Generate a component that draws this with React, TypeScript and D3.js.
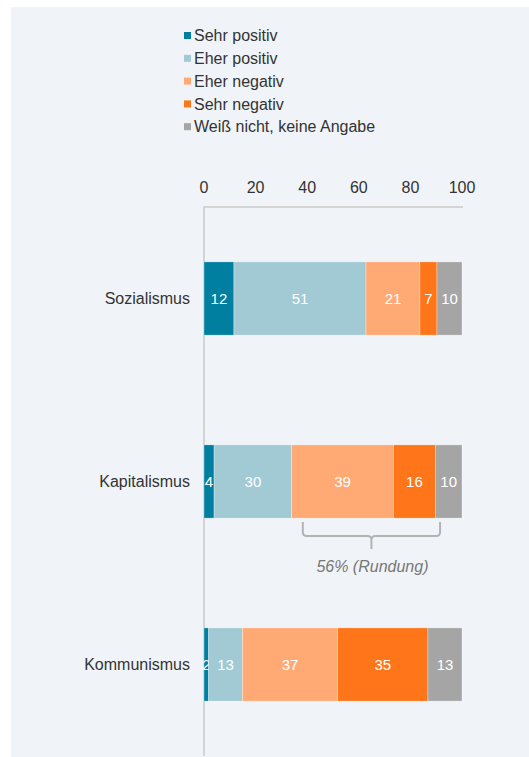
import React from "react";
import * as d3 from "d3";

const categories = ["Sozialismus", "Kapitalismus", "Kommunismus"];
const seriesNames = ["Sehr positiv", "Eher positiv", "Eher negativ", "Sehr negativ", "Weiß nicht, keine Angabe"];
const seriesColors = ["#007fa0", "#a1cad4", "#ffa974", "#ff751a", "#a5a5a5"];
const sehrPositiv = [11.6, 3.9, 1.8];
const eherPositiv = [51.2, 30.1, 13.1];
const eherNegativ = [20.9, 39.4, 36.9];
const sehrNegativ = [6.6, 16.3, 35.0];
const weissNicht = [9.7, 10.3, 13.2];
const displayLabels = [
  ["12", "51", "21", "7", "10"],
  ["4", "30", "39", "16", "10"],
  ["2", "13", "37", "35", "13"],
];
const ticks = [0, 20, 40, 60, 80, 100];
const braceCategory = "Kapitalismus";
const braceRange = [38.3, 91.5];
const braceLabel = "56% (Rundung)";

const W = 529;
const H = 757;
const FONT = "'Liberation Sans', Arial, sans-serif";

export default function App() {
  const x = d3.scaleLinear().domain([0, 100]).range([204, 462]);
  const y = d3.scaleBand<string>().domain(categories).range([207, 756]).paddingInner(0.6).paddingOuter(0.3);
  const series = [sehrPositiv, eherPositiv, eherNegativ, sehrNegativ, weissNicht];
  const rows = categories.map((c, i) => {
    const obj: any = { cat: c };
    seriesNames.forEach((s, j) => (obj[s] = series[j][i]));
    return obj;
  });
  const stacked = d3.stack<any>().keys(seriesNames)(rows);

  const bw = y.bandwidth();
  const by = (y(braceCategory) as number) + bw;
  const bx0 = x(braceRange[0]);
  const bx1 = x(braceRange[1]);
  const bmid = (bx0 + bx1) / 2;
  const t = by + 4;
  const hy = by + 18;
  const r = 4;
  const bracePath = `M${bx0},${t} V${hy - r} Q${bx0},${hy} ${bx0 + r},${hy} H${bmid - r} Q${bmid},${hy} ${bmid},${hy + r} V${hy + 13} M${bmid},${hy + r} Q${bmid},${hy} ${bmid + r},${hy} H${bx1 - r} Q${bx1},${hy} ${bx1},${hy - r} V${t}`;

  return (
    <svg width={W} height={H} style={{ position: "absolute", left: 0, top: 0 }} fontFamily={FONT}>
      <rect x={11} y={7} width={W - 11} height={750} fill="#f0f4f8" />
      {/* legend */}
      {seriesNames.map((s, i) => {
        const cy = 35.5 + i * 22.8;
        return (
          <g key={s}>
            <rect x={184} y={cy - 3.5} width={7} height={7} fill={seriesColors[i]} />
            <text x={194} y={cy} dy="0.35em" fontSize={16} fill="#333">
              {s}
            </text>
          </g>
        );
      })}
      {/* axis */}
      {ticks.map((tk) => (
        <text key={tk} x={x(tk)} y={187.5} dy="0.35em" textAnchor="middle" fontSize={16} fill="#333">
          {tk}
        </text>
      ))}
      <line x1={x(0)} x2={x(100) + 1} y1={207} y2={207} stroke="#d4d4d4" strokeWidth={2} />
      <line x1={x(0)} x2={x(0)} y1={206} y2={756} stroke="#d4d4d4" strokeWidth={2} />
      {/* bars */}
      {stacked.map((layer, j) => (
        <g key={layer.key}>
          {layer.map((d, i) => {
            const cat = categories[i];
            const x0 = x(d[0]);
            const x1 = x(d[1]);
            return (
              <g key={cat}>
                <rect x={x0} y={y(cat)} width={x1 - x0} height={bw} fill={seriesColors[j]} stroke="#fff" strokeWidth={0.5} strokeOpacity={0.6} />
                <text x={(x0 + x1) / 2} y={(y(cat) as number) + bw / 2} dy="0.35em" textAnchor="middle" fontSize={15} fill="#fff">
                  {displayLabels[i][j]}
                </text>
              </g>
            );
          })}
        </g>
      ))}
      {/* category labels */}
      {categories.map((c) => (
        <text key={c} x={190} y={(y(c) as number) + bw / 2} dy="0.35em" textAnchor="end" fontSize={16} fill="#333">
          {c}
        </text>
      ))}
      {/* brace */}
      <path d={bracePath} fill="none" stroke="#b3b3b3" strokeWidth={2} />
      <text x={bmid + 1} y={hy + 30} dy="0.35em" textAnchor="middle" fontSize={16} fontStyle="italic" fill="#777">
        {braceLabel}
      </text>
    </svg>
  );
}
